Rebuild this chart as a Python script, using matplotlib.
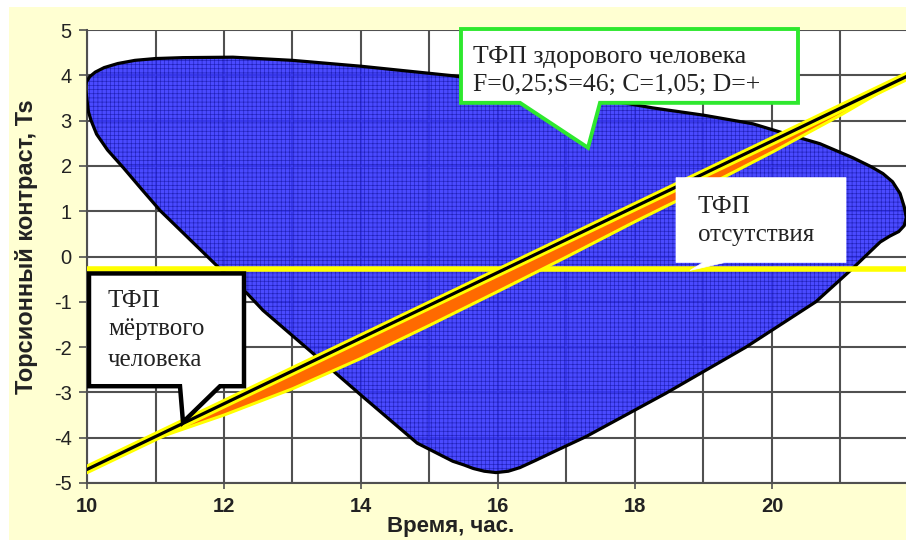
import matplotlib
matplotlib.use("Agg")
import matplotlib.pyplot as plt
from matplotlib.patches import Polygon, Rectangle

plt.rcParams["axes.unicode_minus"] = False

# ---------------- data ----------------
# outline of the blue region (time, Ts)
blob_x = [9.98, 9.99, 10.04, 10.12, 10.25, 10.45, 10.7, 11.0, 11.4, 12.13, 13.0, 14.0,
          14.96, 15.34, 16.5, 17.5, 18.26, 19.0, 19.72, 20.2, 20.7, 21.18, 21.45, 21.62,
          21.76, 21.87, 21.93, 21.96, 21.93, 21.85, 21.72, 21.58, 21.4, 21.18, 20.64,
          19.62, 18.45, 17.28, 16.8, 16.55, 16.32, 16.15, 15.97, 15.8, 15.64, 15.5,
          15.34, 14.82, 14.03, 13.3, 12.57, 12.34, 11.92, 11.07, 10.8, 10.53, 10.3,
          10.14, 10.06, 10.02, 10.0]
blob_y = [3.72, 3.85, 3.97, 4.07, 4.17, 4.26, 4.33, 4.37, 4.39, 4.40, 4.33, 4.20,
          4.05, 3.99, 3.72, 3.48, 3.28, 3.12, 2.93, 2.71, 2.49, 2.18, 1.98, 1.83,
          1.65, 1.39, 1.10, 0.86, 0.68, 0.55, 0.45, 0.32, 0.06, -0.26, -1.00,
          -2.00, -3.02, -3.98, -4.32, -4.50, -4.66, -4.74, -4.77, -4.74, -4.68, -4.60,
          -4.52, -4.12, -3.10, -2.14, -1.19, -0.82, -0.24, 1.01, 1.48, 1.96, 2.35,
          2.70, 3.00, 3.20, 3.45]

# band of the healthy-person line
band_x = [10, 11, 12, 13, 14, 15, 16, 17, 18, 19, 20, 21, 22]
band_upper = [-4.70, -3.975, -3.25, -2.525, -1.80, -1.075, -0.35, 0.375, 1.10, 1.825, 2.55, 3.275, 4.00]
band_lower = [-4.70, -4.02, -3.50, -2.92, -2.25, -1.52, -0.77, -0.01, 0.77, 1.52, 2.30, 3.12, 4.00]

# absence line
absent_x = [10, 22]
absent_y = [-0.28, -0.28]

x_ticks = [10, 12, 14, 16, 18, 20]
y_ticks = [-5, -4, -3, -2, -1, 0, 1, 2, 3, 4, 5]

# ---------------- figure ----------------
W, H = 906, 540
fig = plt.figure(figsize=(W / 100, H / 100), dpi=100, facecolor="white")
bg = Rectangle((9 / W, 0), 1, 1 - 7 / H, transform=fig.transFigure,
               facecolor="#FFFFD2", edgecolor="none", zorder=-10)
fig.patches.append(bg)

ax = fig.add_axes([87 / W, 57 / H, (909 - 87) / W, (483 - 30) / H])
ax.set_zorder(5)
ax.set_facecolor("white")
ax.set_xlim(10, 22)
ax.set_ylim(-5, 5)

ax.set_xticks(x_ticks)
ax.set_xticks(range(10, 23), minor=True)
ax.set_yticks(y_ticks)
ax.grid(True, which="both", color="#505050", linewidth=1.5, zorder=0)
ax.set_axisbelow(True)
for s in ["top", "right"]:
    ax.spines[s].set_visible(False)
for s in ["left", "bottom"]:
    ax.spines[s].set_color("#505050")
    ax.spines[s].set_linewidth(1.5)

ax.tick_params(axis="y", length=6, width=1.2, color="#505050", pad=5,
               labelsize=14.5, labelcolor="#222222")
ax.tick_params(axis="x", which="major", length=4, width=1.2, color="#505050", pad=6,
               labelsize=14.5, labelcolor="#222222")
ax.tick_params(axis="x", which="minor", length=0)
for lab in ax.get_xticklabels():
    lab.set_fontweight("bold")
    lab.set_family("Liberation Sans")
for lab in ax.get_yticklabels():
    lab.set_family("Liberation Sans")

ax.set_ylabel("Торсионный контраст, Ts", fontsize=17, fontweight="bold",
              family="Liberation Sans", color="#222222")
ax.yaxis.set_label_coords((38 - 87) / (909 - 87), (483 - 247) / (483 - 30))
ax.set_xlabel("Время, час.", fontsize=16, fontweight="bold",
              family="Liberation Sans", color="#222222")
ax.xaxis.set_label_coords((451 - 87) / (909 - 87), -(532 - 483) / (483 - 30))
ax.xaxis.label.set_va("baseline")

# blue region
plt.rcParams["hatch.color"] = "#1C1CB0"
plt.rcParams["hatch.linewidth"] = 0.45
ax.fill(blob_x, blob_y, facecolor="#3636FF", hatch="++++", edgecolor="#1C1CB0",
        linewidth=0, alpha=0.9, zorder=2)
ax.plot(blob_x + blob_x[:1], blob_y + blob_y[:1], color="black", linewidth=2.3, zorder=3)

# absence line
ax.plot(absent_x, absent_y, color="#FFFF00", linewidth=4, zorder=4, solid_capstyle="butt")

# healthy band
ax.fill_between(band_x, band_lower, band_upper, color="#FF6A00", linewidth=0, zorder=5)
ax.plot(band_x, band_lower, color="#FFFF00", linewidth=2.2, zorder=5)
ax.plot(band_x, band_upper, color="#FFFF00", linewidth=6.5, zorder=5)
ax.plot(band_x, band_upper, color="black", linewidth=2.3, zorder=6)


def px(x, y):
    return ((x - 87) / 68.5 + 10, (256 - y) / 45.4)


serif = "Liberation Serif"
tc = "#222222"

# green callout (healthy person)
g_pts = [(461, 28), (798, 28), (798, 102), (600, 102), (588, 147), (520, 102), (461, 102)]
ax.add_patch(Polygon([px(*p) for p in g_pts], closed=True, facecolor="white",
                     edgecolor="#2EE82E", linewidth=2.8, zorder=8, clip_on=False))
ax.text(*px(473, 62), "ТФП здорового человека", family=serif, fontsize=18.5, color=tc,
        va="baseline", zorder=9)
ax.text(*px(473, 90), "F=0,25;S=46; C=1,05; D=+", family=serif, fontsize=18.5, color=tc,
        va="baseline", zorder=9)

# absence callout
a_pts = [(676, 177), (846, 177), (846, 262), (725, 262), (690, 270), (703, 262), (676, 262)]
ax.add_patch(Polygon([px(*p) for p in a_pts], closed=True, facecolor="white",
                     edgecolor="white", linewidth=0.5, zorder=8))
ax.text(*px(698, 212), "ТФП", family=serif, fontsize=18, color=tc, va="baseline", zorder=9)
ax.text(*px(698, 240), "отсутствия", family=serif, fontsize=18, color=tc, va="baseline", zorder=9)

# dead person callout
d_pts = [(89, 273), (244, 273), (244, 386), (220, 386), (183, 422), (180, 386), (89, 386)]
ax.add_patch(Polygon([px(*p) for p in d_pts], closed=True, facecolor="white",
                     edgecolor="black", linewidth=3.2, zorder=8, joinstyle="miter"))
ax.text(*px(108, 307), "ТФП", family=serif, fontsize=18, color=tc, va="baseline", zorder=9)
ax.text(*px(108, 335), "мёртвого", family=serif, fontsize=18, color=tc, va="baseline", zorder=9)
ax.text(*px(108, 366), "человека", family=serif, fontsize=18, color=tc, va="baseline", zorder=9)

fig.savefig("out.png", dpi=100, facecolor="white")
